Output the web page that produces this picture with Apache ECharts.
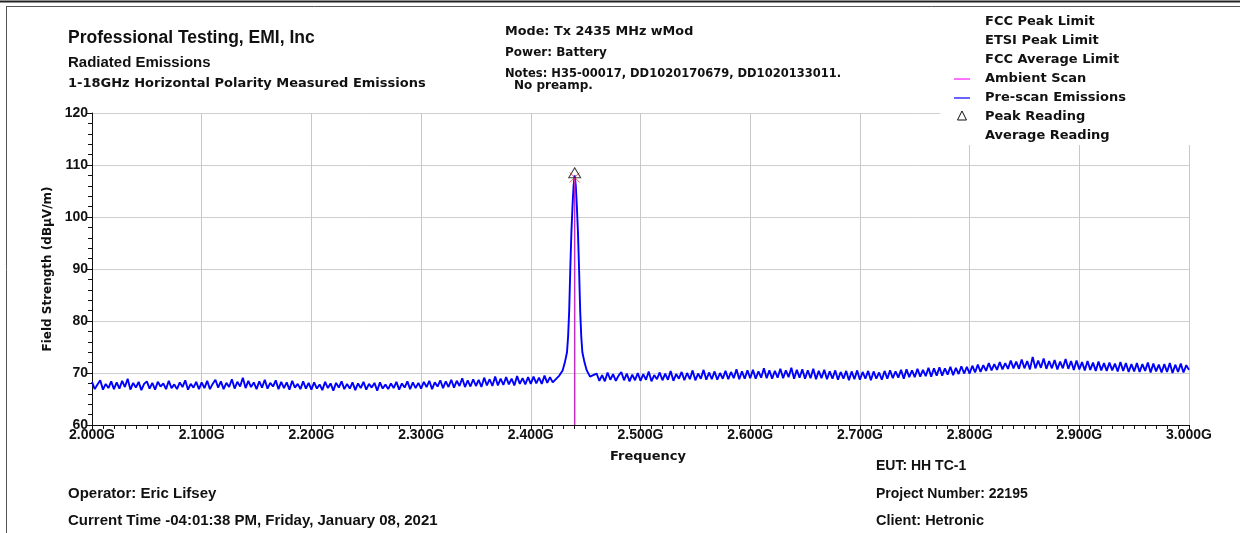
<!DOCTYPE html>
<html>
<head>
<meta charset="utf-8">
<title>Radiated Emissions</title>
<script src="https://cdn.jsdelivr.net/npm/echarts@6/dist/echarts.min.js"></script>
<style>
  html, body { margin: 0; padding: 0; background: #fff; }
  #main { width: 1240px; height: 533px; }
</style>
</head>
<body>
<div id="main"></div>
<script>
// frequency axis (GHz) and level axis (dBuV/m)
var freqMin = 2.0
var freqMax = 3.0
var freqTickStep = 0.1
var levelMin = 60
var levelMax = 120
var levelTickStep = 10

// pre-scan trace at 2.5 MHz steps
var scanStep = 0.0025
var lowBandStart = 2.000 // 2.000 .. 2.420
var lowBandLevels = [
  68.3, 66.9, 67.8, 68.6, 66.8, 67.9, 67.1, 68.4, 66.9, 68.2,
  67.0, 68.5, 67.3, 68.9, 66.8, 68.1, 67.2, 68.3, 66.7, 67.9,
  68.4, 67.0, 68.1, 66.8, 68.3, 67.4, 68.0, 66.9, 68.5, 67.1,
  67.8, 66.9, 68.2, 67.3, 68.6, 66.8, 67.9, 67.2, 68.3, 66.9,
  68.2, 67.1, 68.5, 66.9, 67.9, 68.7, 67.2, 68.4, 66.9, 68.1,
  67.3, 68.8, 67.0, 68.3, 67.4, 69.1, 67.1, 68.5, 67.3, 68.2,
  66.9, 68.4, 67.2, 68.7, 67.0, 68.1, 67.4, 68.6, 66.9, 68.3,
  67.1, 68.2, 66.8, 68.5, 67.2, 67.9, 66.9, 68.4, 67.0, 68.1,
  66.8, 68.2, 67.0, 67.8, 66.7, 68.3, 67.1, 68.0, 66.6, 68.1,
  67.2, 68.4, 66.9, 67.9, 67.0, 68.2, 66.7, 68.0, 67.1, 68.3,
  66.8, 67.9, 67.2, 68.1, 66.6, 68.2, 67.0, 67.8, 66.9, 68.0,
  67.1, 68.3, 66.8, 68.0, 67.2, 68.4, 66.9, 68.2, 67.1, 68.1,
  67.0, 68.3, 67.3, 68.5, 66.9, 68.2, 67.4, 68.6, 67.1, 68.4,
  67.3, 68.7, 67.2, 68.5, 67.5, 69.0, 67.3, 68.6, 67.4, 68.8,
  67.5, 68.7, 67.3, 69.1, 67.6, 68.8, 67.5, 69.3, 67.6, 68.9,
  67.7, 69.2, 67.8, 68.9, 67.6, 69.4, 67.9, 69.0, 67.8, 69.2,
  67.9, 69.3, 68.0, 69.1, 67.9, 69.5, 68.1, 69.2, 68.2
]
// the carrier at 2.440 GHz
var peakFreqs = [2.426, 2.429, 2.431, 2.433, 2.434, 2.435, 2.436, 2.437, 2.438, 2.439, 2.440,
  2.441, 2.442, 2.443, 2.444, 2.445, 2.446, 2.447, 2.449, 2.451, 2.454]
var peakLevels = [69.5, 70.5, 72.0, 74.0, 77.0, 82.0, 90.0, 97.0, 102.0, 106.0, 108.0,
  106.0, 102.0, 97.0, 90.0, 82.0, 77.0, 74.0, 72.0, 70.5, 69.3]
var highBandStart = 2.460 // 2.460 .. 3.000
var highBandLevels = [
  69.9, 68.5, 69.6, 68.4, 70.1, 68.7, 69.8, 68.5, 69.5, 70.2, 68.6, 69.9, 68.4, 69.7, 68.6, 70.0,
  68.5, 69.8, 68.7, 70.3, 68.4, 69.6, 68.8, 70.1, 68.6, 69.9,
  68.7, 70.4, 68.5, 69.8, 68.9, 70.2, 68.6, 70.0, 68.8, 70.5,
  68.6, 69.9, 68.9, 70.6, 68.7, 70.1, 68.8, 70.3, 68.7, 70.0,
  68.9, 70.4, 68.8, 70.2, 69.0, 70.7, 68.8, 70.3, 68.9, 70.5,
  69.0, 70.6, 68.9, 70.3, 69.1, 70.9, 69.0, 70.5, 68.9, 70.4,
  69.1, 70.8, 69.0, 70.5, 69.2, 71.0, 68.9, 70.6, 69.1, 70.7,
  68.9, 70.5, 69.0, 70.8, 68.8, 70.4, 69.0, 70.6, 68.8, 70.3,
  68.9, 70.5, 68.7, 70.2, 68.9, 70.4, 68.6, 70.3, 68.8, 70.5,
  68.7, 70.2, 68.9, 70.4, 68.6, 70.3, 68.9, 70.1, 68.7, 70.4,
  68.9, 70.5, 69.0, 70.3, 69.1, 70.6, 68.9, 70.7, 69.2, 70.5,
  69.2, 70.8, 69.3, 70.6, 69.4, 71.0, 69.3, 70.9, 69.5, 71.1,
  69.5, 70.9, 69.7, 71.2, 69.6, 71.0, 69.8, 71.3, 69.9, 71.2,
  69.9, 71.4, 70.1, 71.6, 70.2, 71.5, 70.4, 71.9, 70.5, 71.7,
  70.6, 72.1, 70.7, 71.9, 70.8, 72.4, 70.9, 72.2, 70.8, 72.6,
  70.9, 72.3, 70.7, 73.1, 70.9, 72.4, 71.0, 72.8, 70.8, 72.3,
  70.9, 72.5, 70.7, 72.2, 70.9, 72.7, 70.8, 72.3, 70.6, 72.4,
  70.7, 72.1, 70.5, 72.3, 70.6, 72.0, 70.4, 72.2, 70.5, 71.9,
  70.4, 72.0, 70.5, 71.8, 70.3, 72.1, 70.4, 71.9, 70.2, 71.7,
  70.3, 71.9, 70.2, 71.7, 70.4, 72.0, 70.1, 71.8, 70.3, 71.6,
  70.1, 71.7, 70.2, 71.9, 70.0, 71.6, 70.2, 71.8, 70.1, 71.5,
  70.6
]

// ambient scan spike, peak reading and marker
var ambientFreqs = [2.440, 2.440]
var ambientLevels = [60, 107.6]
var peakReading = [2.440, 108.5]
var peakMarker = [2.440, 107.6]

var legendNames = ['FCC Peak Limit', 'ETSI Peak Limit', 'FCC Average Limit', 'Ambient Scan',
  'Pre-scan Emissions', 'Peak Reading', 'Average Reading']

var headerLines = ['Mode: Tx 2435 MHz wMod', 'Power: Battery', 'Notes: H35-00017, DD1020170679, DD1020133011.']

function buildScan() {
  var out = []
  var i
  for (i = 0; i < lowBandLevels.length; i++) {
    out.push([+(lowBandStart + i * scanStep).toFixed(4), lowBandLevels[i]])
  }
  for (i = 0; i < peakFreqs.length; i++) {
    out.push([peakFreqs[i], peakLevels[i]])
  }
  for (i = 0; i < highBandLevels.length; i++) {
    out.push([+(highBandStart + i * scanStep).toFixed(4), highBandLevels[i]])
  }
  return out
}

var FONT = '"Liberation Sans", Arial, sans-serif'
var WIDE = '"DejaVu Sans", sans-serif' // stands in for the letter-spaced Arial
var TXT = '#111'

function label(x, y, text, size, family) {
  return {
    type: 'text', x: x, y: y, z: 20,
    style: {
      text: text, fill: TXT, font: 'bold ' + (size || 12) + 'px ' + (family || FONT),
      textVerticalAlign: 'middle'
    }
  }
}

var graphics = [
  // frame
  { type: 'line', z: 20, shape: { x1: 0, y1: 1.5, x2: 1240, y2: 1.5 }, style: { stroke: '#222', lineWidth: 2 } },
  { type: 'line', z: 20, shape: { x1: 6, y1: 6.5, x2: 1240, y2: 6.5 }, style: { stroke: '#555', lineWidth: 1 } },
  { type: 'line', z: 20, shape: { x1: 6.5, y1: 6, x2: 6.5, y2: 533 }, style: { stroke: '#555', lineWidth: 1 } },
  // white box behind the legend
  { type: 'rect', z: 10, shape: { x: 940, y: 8, width: 262, height: 137 }, style: { fill: '#fff' } },
  label(68, 38, 'Professional Testing, EMI, Inc', 17.5),
  label(68, 63, 'Radiated Emissions', 15),
  label(68, 84, '1-18GHz Horizontal Polarity Measured Emissions', 13, WIDE),
  label(505, 32, headerLines[0], 12.8, WIDE),
  label(505, 53, headerLines[1], 12, WIDE),
  label(505, 74, headerLines[2], 11.5, WIDE),
  label(514, 86, 'No preamp.', 12, WIDE),
  label(876, 466, 'EUT: HH TC-1', 14),
  label(876, 494, 'Project Number: 22195', 14),
  label(876, 521, 'Client: Hetronic', 14.5),
  label(68, 494, 'Operator: Eric Lifsey', 15),
  label(68, 521, 'Current Time -04:01:38 PM, Friday, January 08, 2021', 15),
  // legend icons
  { type: 'line', z: 20, shape: { x1: 954, y1: 79, x2: 970, y2: 79 }, style: { stroke: '#ff44ff', lineWidth: 1.5 } },
  { type: 'line', z: 20, shape: { x1: 954, y1: 98, x2: 970, y2: 98 }, style: { stroke: '#3333ff', lineWidth: 1.5 } },
  { type: 'polygon', z: 20, shape: { points: [[962, 111], [957.5, 120], [966.5, 120]] }, style: { fill: '#fff', stroke: '#111', lineWidth: 1 } }
]
for (var k = 0; k < legendNames.length; k++) {
  graphics.push(label(985, 22 + k * 19, legendNames[k], 13, WIDE))
}

var myChart = echarts.init(document.getElementById('main'), null, { renderer: 'canvas' })

var option = {
  animation: false,
  backgroundColor: '#fff',
  textStyle: { fontFamily: FONT },
  grid: { left: 92, right: 51, top: 113, bottom: 108 },
  xAxis: {
    type: 'value',
    min: freqMin,
    max: freqMax,
    interval: freqTickStep,
    name: 'Frequency',
    nameLocation: 'middle',
    nameGap: 25,
    nameTextStyle: { color: TXT, fontWeight: 'bold', fontSize: 13, fontFamily: WIDE, padding: [0, 0, 0, 15] },
    axisLine: { lineStyle: { color: '#111', width: 1 } },
    axisTick: { length: 5, lineStyle: { color: '#111' } },
    minorTick: { show: true, splitNumber: 10, length: 4, lineStyle: { color: '#111' } },
    axisLabel: {
      color: TXT, fontWeight: 'bold', fontSize: 14, fontFamily: FONT, margin: 3,
      formatter: function (v) { return v.toFixed(3) + 'G' }
    },
    splitLine: { show: true, lineStyle: { color: '#c8c8c8', width: 1 } }
  },
  yAxis: {
    type: 'value',
    min: levelMin,
    max: levelMax,
    interval: levelTickStep,
    name: 'Field Strength (dBµV/m)',
    nameLocation: 'middle',
    nameRotate: 90,
    nameGap: 38,
    nameTextStyle: { color: TXT, fontWeight: 'bold', fontSize: 12, fontFamily: WIDE },
    axisLine: { show: true, lineStyle: { color: '#111', width: 1 } },
    axisTick: { show: true, length: 5, lineStyle: { color: '#111' } },
    minorTick: { show: true, splitNumber: 5, length: 4, lineStyle: { color: '#111' } },
    axisLabel: { color: TXT, fontWeight: 'bold', fontSize: 14, fontFamily: FONT, margin: 4 },
    splitLine: { show: true, lineStyle: { color: '#cfcfcf', width: 1 } }
  },
  series: [
    {
      name: 'Pre-scan Emissions',
      type: 'line',
      showSymbol: false,
      data: buildScan(),
      color: '#0000ff',
      lineStyle: { width: 1.9 },
      z: 3
    },
    {
      name: 'Ambient Scan',
      type: 'line',
      showSymbol: false,
      data: [[ambientFreqs[0], ambientLevels[0]], [ambientFreqs[1], ambientLevels[1]]],
      color: '#c030c0',
      lineStyle: { width: 1.5 },
      z: 4
    },
    {
      name: 'Peak Marker',
      type: 'scatter',
      symbol: 'path://M0,0L10,10M10,0L0,10',
      symbolSize: 10,
      data: [peakMarker],
      itemStyle: { color: 'none', borderColor: '#ff3333', borderWidth: 1 },
      z: 5
    },
    {
      name: 'Peak Reading',
      type: 'scatter',
      symbol: 'triangle',
      symbolSize: [12, 10],
      data: [peakReading],
      itemStyle: { color: 'rgba(255,255,255,0)', borderColor: '#111', borderWidth: 1 },
      z: 6
    }
  ],
  graphic: graphics
}

myChart.setOption(option)
</script>
</body>
</html>
